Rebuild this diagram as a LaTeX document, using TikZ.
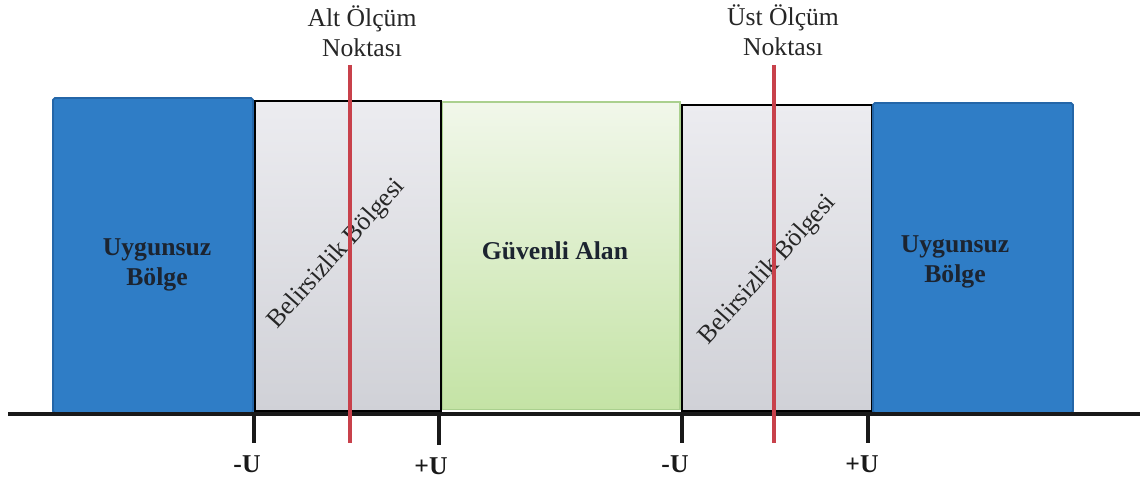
\documentclass[tikz,border=0pt]{standalone}
\usepackage{fontspec}
\setmainfont{Liberation Serif}
\usepackage{xcolor}
\usetikzlibrary{positioning, arrows.meta}

\definecolor{zoneblue}{RGB}{47,125,198}
\definecolor{zoneblueline}{RGB}{36,102,168}
\definecolor{unsuretop}{RGB}{236,236,240}
\definecolor{unsurebot}{RGB}{208,209,215}
\definecolor{safetop}{RGB}{241,247,234}
\definecolor{safebot}{RGB}{196,227,165}
\definecolor{safeline}{RGB}{170,208,142}
\definecolor{measred}{RGB}{200,65,75}
\definecolor{labeltext}{RGB}{28,36,48}

\begin{document}
\begin{tikzpicture}[
    x=0.02cm, y=-0.02cm, % one unit = one pixel of the sketch
    font=\fontsize{14.6}{16.8}\selectfont, % Times-like text
    zone/.style={draw=zoneblueline, line width=1pt, fill=zoneblue, rounded corners=1pt, inner sep=0pt},
    unsure/.style={draw=black, line width=0.7pt, top color=unsuretop, bottom color=unsurebot, inner sep=0pt},
    safe/.style={draw=safeline, line width=0.6pt, top color=safetop, bottom color=safebot, inner sep=0pt},
    title/.style={font=\fontsize{14.6}{16.8}\selectfont\bfseries, text=labeltext, align=center},
    slant/.style={rotate=48, text=black!85},
    tick/.style={line width=2.3pt, black!90},
    measure/.style={line width=2pt, measred},
    ulabel/.style={font=\fontsize{14.6}{16.8}\selectfont\bfseries, anchor=base, text=black!90}
]
\useasboundingbox (0,0) rectangle (1146,482);

% zones
\node[zone, minimum width=4cm, minimum height=6.3cm] (badL) at (153,255.5) {};
\node[unsure, minimum width=3.72cm, minimum height=6.2cm] (unsureL) at (348,256) {};
\node[safe, minimum width=4.76cm, minimum height=6.16cm] (safe) at (561,256) {};
\node[unsure, minimum width=3.8cm, minimum height=6.12cm] (unsureR) at (777,258) {};
\node[zone, minimum width=4cm, minimum height=6.2cm] (badR) at (973,258) {};

% zone texts
\node[title] (badLtxt) at (157,265) {Uygunsuz\\Bölge};
\node[title] (safetxt) at (555,251) {Güvenli Alan};
\node[title] (badRtxt) at (955,262) {Uygunsuz\\Bölge};
\node[slant] (unsureLtxt) at (337,254) {Belirsizlik Bölgesi};
\node[slant] (unsureRtxt) at (768,270) {Belirsizlik Bölgesi};

% axis
\coordinate (axisL) at (8,414);
\coordinate (axisR) at (1140,414);
\draw[line width=2.8pt, black!90] (axisL) -- (axisR);

% ticks
\coordinate (t1) at (254,414);
\coordinate (t2) at (439,414);
\coordinate (t3) at (682,414);
\coordinate (t4) at (868,414);
\draw[tick] (t1) -- ++(0,29);
\draw[tick] (t2) -- ++(0,31);
\draw[tick] (t3) -- ++(0,29);
\draw[tick] (t4) -- ++(0,29);
\node[ulabel] (u1) at (247,473) {-U};
\node[ulabel] (u2) at (431,475) {+U};
\node[ulabel] (u3) at (675,473) {-U};
\node[ulabel] (u4) at (862,473) {+U};

% measuring points
\node[align=center, text=black!85] (lowLbl) at (362,31) {Alt Ölçüm\\Noktası};
\node[align=center, text=black!85] (upLbl) at (783,30) {Üst Ölçüm\\Noktası};
\coordinate (lowTop) at (350,65);
\coordinate (lowBot) at (350,443);
\coordinate (upTop) at (774,65);
\coordinate (upBot) at (774,443);
\draw[measure] (lowTop) -- (lowBot);
\draw[measure] (upTop) -- (upBot);
\end{tikzpicture}
\end{document}
